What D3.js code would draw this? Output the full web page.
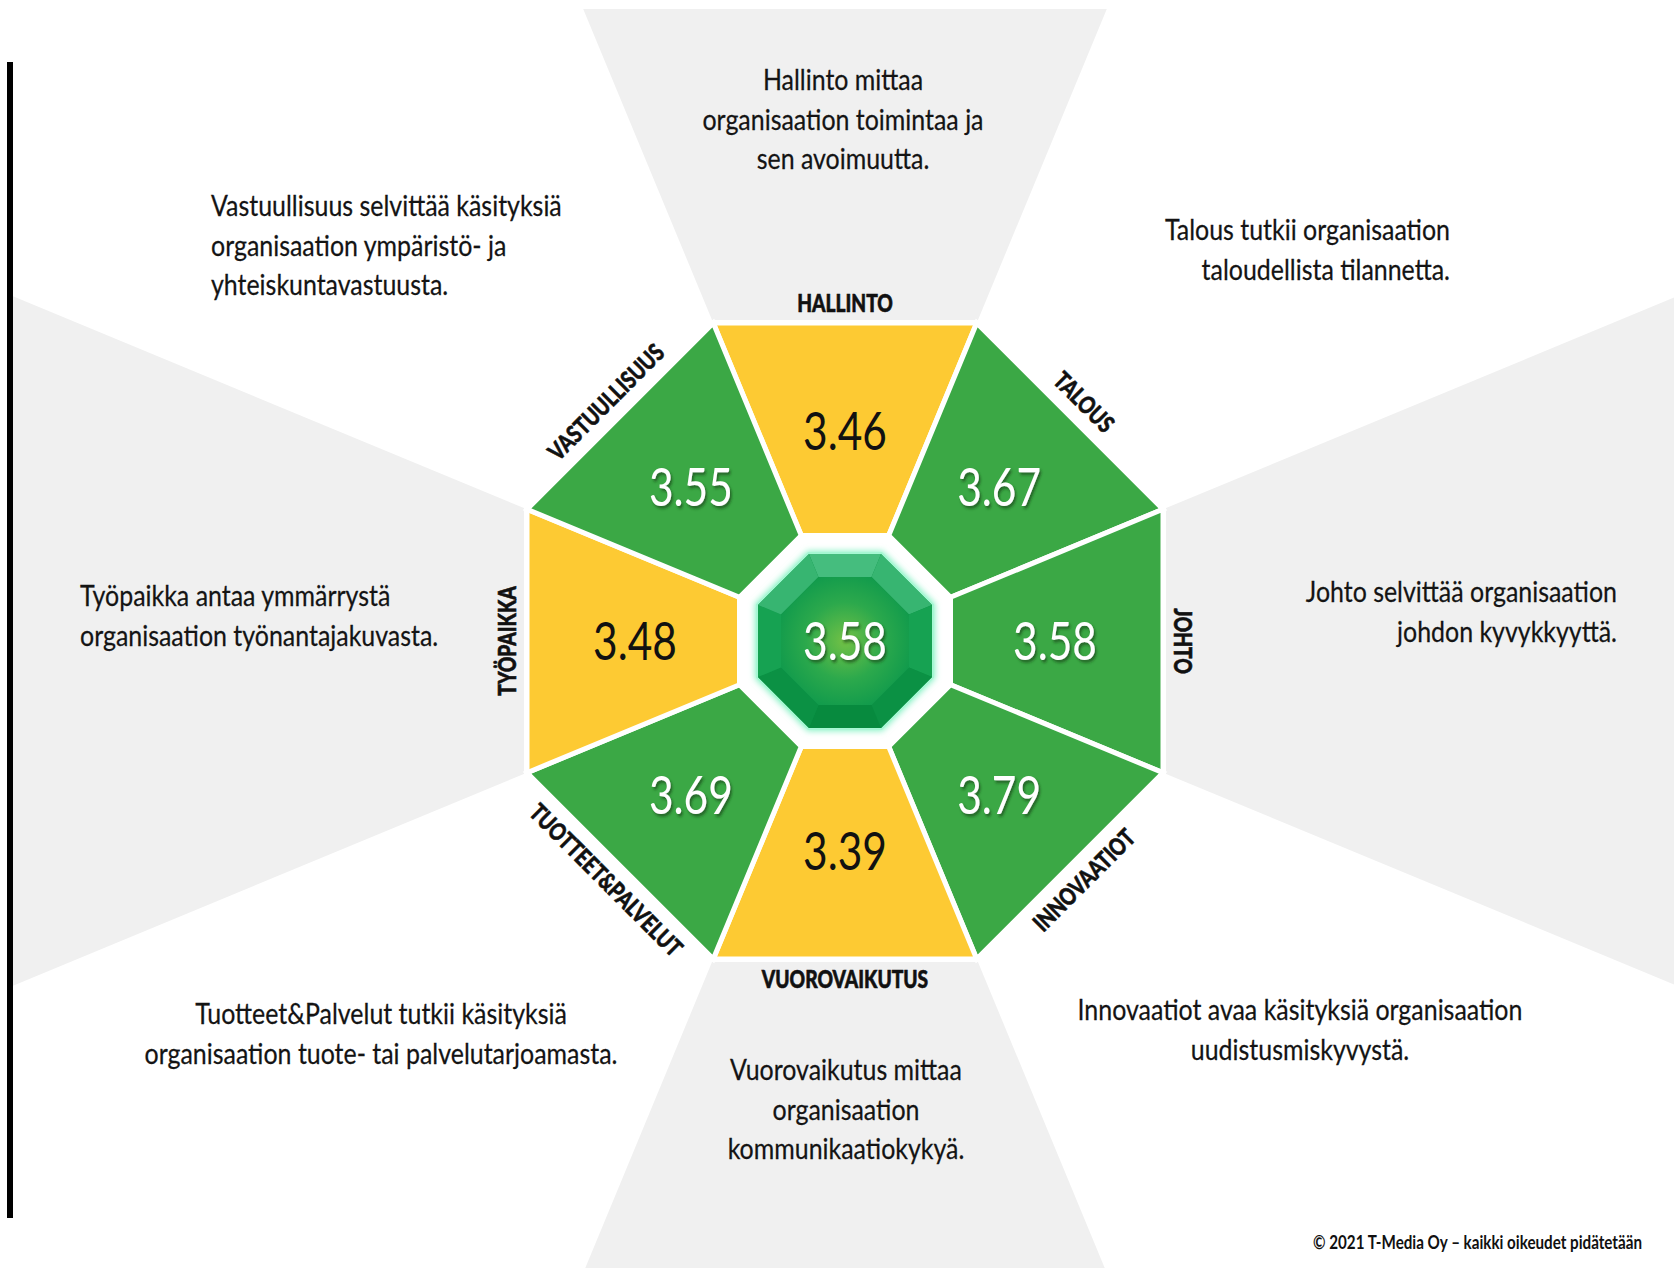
<!DOCTYPE html>
<html>
<head>
<meta charset="utf-8">
<script src="https://cdn.jsdelivr.net/npm/d3@7"></script>
<style>
  html, body { margin: 0; padding: 0; background: #fff; }
  svg { display: block; }
  text { font-family: Lato, "Open Sans", sans-serif; }
</style>
</head>
<body>
<div id="chart"></div>
<script>
"use strict";

/*** Data */
const categories = ["HALLINTO", "TALOUS", "JOHTO", "INNOVAATIOT", "VUOROVAIKUTUS", "TUOTTEET&PALVELUT", "TYÖPAIKKA", "VASTUULLISUUS"];
const scores = [3.46, 3.67, 3.58, 3.79, 3.39, 3.69, 3.48, 3.55];
const overall = 3.58;
const descriptions = [
    ["Hallinto mittaa", "organisaation toimintaa ja", "sen avoimuutta."],
    ["Talous tutkii organisaation", "taloudellista tilannetta."],
    ["Johto selvittää organisaation", "johdon kyvykkyyttä."],
    ["Innovaatiot avaa käsityksiä organisaation", "uudistusmiskyvystä."],
    ["Vuorovaikutus mittaa", "organisaation", "kommunikaatiokykyä."],
    ["Tuotteet&Palvelut tutkii käsityksiä", "organisaation tuote- tai palvelutarjoamasta."],
    ["Työpaikka antaa ymmärrystä", "organisaation työnantajakuvasta."],
    ["Vastuullisuus selvittää käsityksiä", "organisaation ympäristö- ja", "yhteiskuntavastuusta."]
];
const copyright = "© 2021 T-Media Oy – kaikki oikeudet pidätetään";

/*** Layout */
const w = 1674;
const h = 1268;
const cx = 845, cy = 641;

const outerR = 318;     // apothem of the big octagon
const innerR = 105.5;   // apothem of the hole
const gemR = 88;        // apothem of the centre gem
const gemInnerR = 64;
const labelR = 338;
const valueR = i => i % 2 === 0 ? 210 : 218;   // diagonal values sit a bit further out

// description blocks: x, y of first line, anchor
const descLayout = [
    {x: 843, y: 80, anchor: "middle"},
    {x: 1450, y: 230, anchor: "end"},
    {x: 1617, y: 592, anchor: "end"},
    {x: 1300, y: 1010, anchor: "middle"},
    {x: 846, y: 1070, anchor: "middle"},
    {x: 381, y: 1014, anchor: "middle"},
    {x: 80, y: 596, anchor: "start"},
    {x: 211, y: 206, anchor: "start"}
];

const yellow = "#fdca33";
const green = "#3ba845";
const grey = "#f0f0f0";

/* Scales */
const angle = d3.scaleBand()
    .domain(categories)
    .range([-Math.PI / 8, 2 * Math.PI - Math.PI / 8]);
const bw = angle.bandwidth();
const mid = c => angle(c) + bw / 2;
const corner = a => a / Math.cos(Math.PI / 8);   // apothem -> vertex radius

const fillScale = d3.scaleThreshold().domain([3.5]).range([yellow, green]);
const textScale = d3.scaleThreshold().domain([3.5]).range(["#111", "#fff"]);

const pt = (a, r) => { const p = d3.pointRadial(a, r); return [p[0] + cx, p[1] + cy]; };
const line = d3.line().curve(d3.curveLinearClosed);

const svg = d3.select("#chart")
    .append("svg")
    .attr("width", w)
    .attr("height", h);

const defs = svg.append("defs");
defs.append("clipPath").attr("id", "bgclip")
    .append("rect").attr("x", 13).attr("y", 9).attr("width", w).attr("height", h);

const shadow = defs.append("filter").attr("id", "shadow")
    .attr("x", "-20%").attr("y", "-20%").attr("width", "140%").attr("height", "140%");
shadow.append("feDropShadow").attr("dx", 2).attr("dy", 2.5)
    .attr("stdDeviation", 1.5).attr("flood-color", "#1d4a1f").attr("flood-opacity", 0.75);

const glow = defs.append("filter").attr("id", "glow")
    .attr("x", "-20%").attr("y", "-20%").attr("width", "140%").attr("height", "140%");
glow.append("feGaussianBlur").attr("stdDeviation", 3);

const gemGrad = defs.append("radialGradient").attr("id", "gemGrad")
    .attr("cx", "50%").attr("cy", "50%").attr("r", "55%");
gemGrad.append("stop").attr("offset", "0%").attr("stop-color", "#72c146");
gemGrad.append("stop").attr("offset", "55%").attr("stop-color", "#2ca94c");
gemGrad.append("stop").attr("offset", "100%").attr("stop-color", "#109a4c");

/** Grey wedges behind the cardinal categories */
svg.append("g")
    .attr("clip-path", "url(#bgclip)")
    .selectAll("path")
    .data(categories.filter((c, i) => i % 2 === 0))
    .join("path")
    .attr("d", c => line([[cx, cy], pt(angle(c), 3000), pt(angle(c) + bw, 3000)]))
    .attr("fill", grey);

/** Left black rule */
svg.append("rect")
    .attr("x", 7).attr("y", 62)
    .attr("width", 6).attr("height", 1156)
    .attr("fill", "#000");

/** White base octagon */
svg.append("path")
    .attr("d", line(categories.map(c => pt(angle(c), corner(outerR + 3)))))
    .attr("fill", "#fff");

/** Segments */
svg.append("g")
    .selectAll("path")
    .data(categories)
    .join("path")
    .attr("d", c => line([
        pt(angle(c), corner(outerR)), pt(angle(c) + bw, corner(outerR)),
        pt(angle(c) + bw, corner(innerR)), pt(angle(c), corner(innerR))
    ]))
    .attr("fill", (c, i) => fillScale(scores[i]))
    .attr("stroke", "#fff")
    .attr("stroke-width", 5)
    .attr("stroke-linejoin", "miter");

/** Centre gem */
const gem = svg.append("g");
gem.append("path")
    .attr("d", line(categories.map(c => pt(angle(c), corner(gemR + 2)))))
    .attr("fill", "#86f2c4")
    .attr("filter", "url(#glow)");
gem.append("path")
    .attr("d", line(categories.map(c => pt(angle(c), corner(gemR)))))
    .attr("fill", "#0b9246")
    .attr("stroke", "#a6f7d3")
    .attr("stroke-width", 2);

const facetColor = d3.scaleLinear().domain([-1, 0, 1]).range(["#078a3e", "#16a252", "#45bd7e"]);
gem.append("g")
    .selectAll("path")
    .data(categories)
    .join("path")
    .attr("d", c => line([
        pt(angle(c), corner(gemR - 1)), pt(angle(c) + bw, corner(gemR - 1)),
        pt(angle(c) + bw, corner(gemInnerR)), pt(angle(c), corner(gemInnerR))
    ]))
    .attr("fill", c => facetColor(Math.cos(mid(c))));
gem.append("path")
    .attr("d", line(categories.map(c => pt(angle(c), corner(gemInnerR)))))
    .attr("fill", "url(#gemGrad)");

/** Values */
const valueFont = 53;
const valueSx = 0.8;
svg.append("g")
    .selectAll("g")
    .data(categories)
    .join("g")
    .attr("transform", (c, i) => { const p = pt(mid(c), valueR(i)); return `translate(${p[0]},${p[1]}) scale(${valueSx},1)`; })
    .append("text")
    .attr("text-anchor", "middle")
    .attr("dy", "0.36em")
    .attr("font-size", valueFont)
    .attr("fill", (c, i) => textScale(scores[i]))
    .attr("filter", (c, i) => scores[i] >= 3.5 ? "url(#shadow)" : null)
    .text((c, i) => scores[i].toFixed(2));

svg.append("g")
    .attr("transform", `translate(${cx},${cy}) scale(${valueSx},1)`)
    .append("text")
    .attr("text-anchor", "middle")
    .attr("dy", "0.36em")
    .attr("font-size", valueFont)
    .attr("fill", "#fff")
    .attr("filter", "url(#shadow)")
    .text(overall.toFixed(2));

/** Category labels, rotated so they never read upside down */
const rot = c => {
    let deg = mid(c) * 180 / Math.PI;
    if (deg >= 270) deg -= 360;
    else if (deg > 90) deg -= 180;
    return deg;
};
svg.append("g")
    .selectAll("g")
    .data(categories)
    .join("g")
    .attr("transform", c => { const p = pt(mid(c), labelR); return `translate(${p[0]},${p[1]}) rotate(${rot(c)}) scale(0.8,1)`; })
    .append("text")
    .attr("text-anchor", "middle")
    .attr("dy", "0.36em")
    .attr("font-size", 24)
    .attr("font-weight", 900)
    .attr("fill", "#111")
    .attr("stroke", "#111")
    .attr("stroke-width", 0.6)
    .text(c => c);

/** Descriptions */
const descSx = 0.86;
svg.append("g")
    .selectAll("g")
    .data(descriptions)
    .join("g")
    .attr("transform", (d, i) => `translate(${descLayout[i].x},${descLayout[i].y}) scale(${descSx},1)`)
    .append("text")
    .attr("text-anchor", (d, i) => descLayout[i].anchor)
    .attr("font-size", 29)
    .attr("fill", "#141414")
    .attr("stroke", "#141414")
    .attr("stroke-width", 0.25)
    .selectAll("tspan")
    .data(d => d)
    .join("tspan")
    .attr("x", 0)
    .attr("y", (d, j) => j * 39.5)
    .attr("dy", "0.36em")
    .text(d => d);

/** Copyright */
svg.append("g")
    .attr("transform", `translate(1642,1242) scale(0.8,1)`)
    .append("text")
    .attr("text-anchor", "end")
    .attr("dy", "0.36em")
    .attr("font-size", 19)
    .attr("font-weight", 700)
    .attr("fill", "#111")
    .text(copyright);
</script>
</body>
</html>
